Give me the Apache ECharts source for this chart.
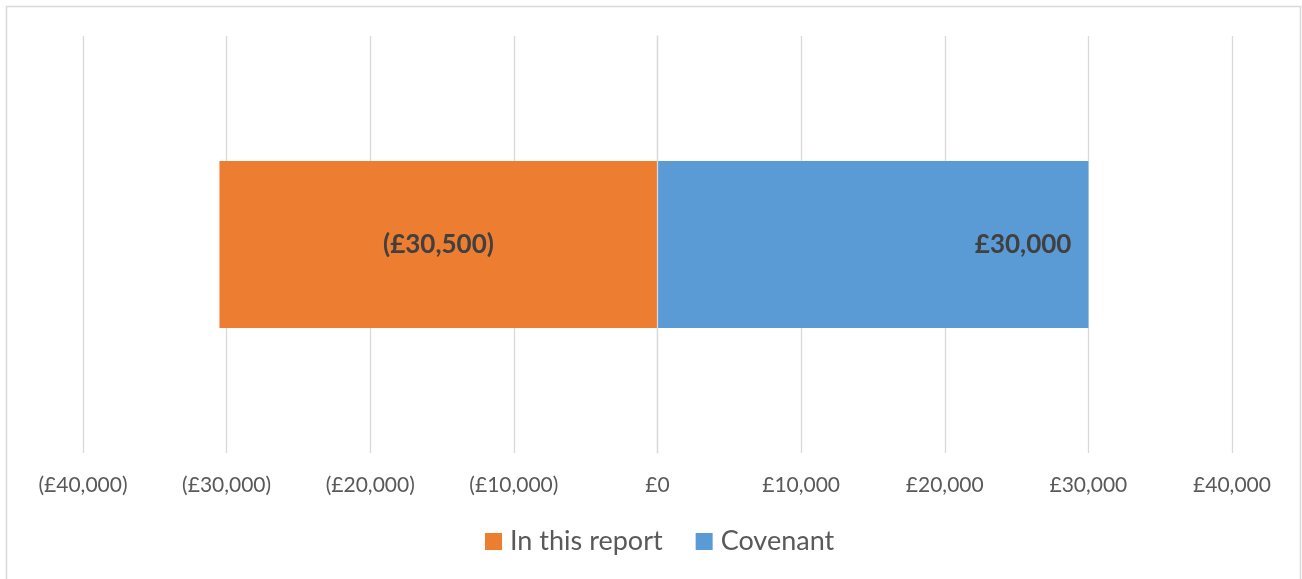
<!DOCTYPE html>
<html>
<head>
<meta charset="utf-8">
<script src="https://cdn.jsdelivr.net/npm/echarts@6/dist/echarts.min.js"></script>
<style>
  html, body { margin: 0; padding: 0; background: #ffffff; }
  #chart { width: 1302px; height: 579px; }
</style>
</head>
<body>
<div id="chart"></div>
<script>
// Single category comparison: figure in this report vs covenant
const categories = ['Amount'];
const seriesNames = ['In this report', 'Covenant'];
const inThisReport = [-30500];
const covenant = [30000];
const axisMin = -40000;
const axisMax = 40000;
const axisStep = 10000;

function money(v) {
  const s = '£' + Math.abs(v).toLocaleString('en-GB');
  return v < 0 ? '(' + s + ')' : s;
}

const FONT = 'Lato';
const chart = echarts.init(document.getElementById('chart'), null, { renderer: 'canvas' });

chart.setOption({
  animation: false,
  backgroundColor: '#ffffff',
  textStyle: { fontFamily: FONT },
  graphic: [{
    type: 'rect',
    shape: { x: 6.5, y: 6.5, width: 1294, height: 590 },
    style: { fill: 'none', stroke: '#D9D9D9', lineWidth: 1.5 },
    silent: true,
    z: 0
  }],
  grid: { left: 83, right: 70, top: 36, bottom: 126, containLabel: false },
  xAxis: {
    type: 'value',
    min: axisMin,
    max: axisMax,
    interval: axisStep,
    axisLine: { show: false },
    axisTick: { show: false },
    splitLine: { show: true, lineStyle: { color: '#D9D9D9', width: 1.3 } },
    axisLabel: {
      formatter: money,
      color: '#595959',
      fontFamily: FONT,
      fontSize: 21,
      margin: 22
    }
  },
  yAxis: {
    type: 'category',
    data: categories,
    z: 5,
    axisLine: { show: true, lineStyle: { color: '#D9D9D9', width: 1.3 } },
    axisTick: { show: false },
    axisLabel: { show: false }
  },
  legend: {
    data: seriesNames,
    bottom: 19,
    left: 480,
    icon: 'rect',
    itemWidth: 17,
    itemHeight: 17,
    itemGap: 33,
    textStyle: { color: '#595959', fontFamily: FONT, fontSize: 27, padding: [0, 0, 0, 3] }
  },
  series: [
    {
      name: seriesNames[0],
      type: 'bar',
      stack: 'total',
      data: inThisReport,
      barWidth: '40%',
      itemStyle: { color: '#ED7D31' },
      label: {
        show: true,
        position: 'inside',
        formatter: p => money(p.value),
        color: '#404040',
        fontFamily: FONT,
        fontWeight: 'bold',
        fontSize: 26
      }
    },
    {
      name: seriesNames[1],
      type: 'bar',
      stack: 'total',
      data: covenant,
      barWidth: '40%',
      itemStyle: { color: '#5B9BD5' },
      label: {
        show: true,
        position: 'insideRight',
        distance: 17,
        formatter: p => money(p.value),
        color: '#404040',
        fontFamily: FONT,
        fontWeight: 'bold',
        fontSize: 26
      }
    }
  ]
});
</script>
</body>
</html>
